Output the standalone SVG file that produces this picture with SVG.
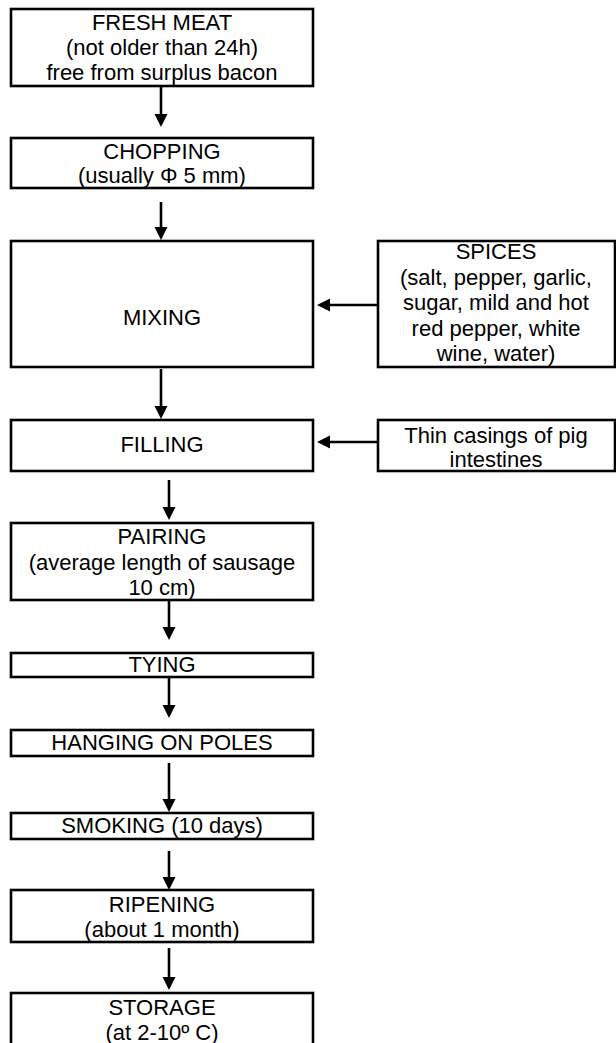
<svg xmlns="http://www.w3.org/2000/svg" width="616" height="1043" viewBox="0 0 616 1043">
<style>
.box{fill:#fff;stroke:#000;stroke-width:2.6}
.t{font-family:"Liberation Sans",Arial,sans-serif;font-size:22px;fill:#000;text-anchor:middle}
.c{stroke:#000;stroke-width:2.6;fill:none;marker-end:url(#ah)}
</style>
<defs>
<marker id="ah" markerUnits="userSpaceOnUse" markerWidth="14" markerHeight="14" refX="3" refY="6.5" orient="auto">
<path d="M0,0 L13,6.5 L0,13 z" fill="#000"/>
</marker>
</defs>
<rect width="616" height="1043" fill="#fff"/>
<g id="connectors">
<line class="c" x1="161" y1="87" x2="161" y2="117"/>
<line class="c" x1="161" y1="202" x2="161" y2="230"/>
<line class="c" x1="161" y1="369" x2="161" y2="409"/>
<line class="c" x1="169" y1="480" x2="169" y2="510"/>
<line class="c" x1="169" y1="601" x2="169" y2="630"/>
<line class="c" x1="169" y1="678" x2="169" y2="708"/>
<line class="c" x1="169" y1="763" x2="169" y2="802"/>
<line class="c" x1="169" y1="851" x2="169" y2="880"/>
<line class="c" x1="169" y1="948" x2="169" y2="980"/>
<line class="c" x1="378" y1="305" x2="327" y2="305"/>
<line class="c" x1="378" y1="442" x2="327" y2="442"/>
</g>
<g id="fresh-meat">
<rect class="box" x="11" y="9" width="302" height="77"/>
<text class="t" x="162" y="30">FRESH MEAT</text>
<text class="t" x="162" y="55">(not older than 24h)</text>
<text class="t" x="162" y="80">free from surplus bacon</text>
</g>
<g id="chopping">
<rect class="box" x="11" y="138" width="302" height="50"/>
<text class="t" x="162" y="159">CHOPPING</text>
<text class="t" x="162" y="183">(usually Φ 5 mm)</text>
</g>
<g id="mixing">
<rect class="box" x="11" y="241" width="302" height="126"/>
<text class="t" x="162" y="325">MIXING</text>
</g>
<g id="spices">
<rect class="box" x="378" y="241" width="237" height="126"/>
<text class="t" x="496" y="259">SPICES</text>
<text class="t" x="496" y="284.5">(salt, pepper, garlic,</text>
<text class="t" x="496" y="310">sugar, mild and hot</text>
<text class="t" x="496" y="335.5">red pepper, white</text>
<text class="t" x="496" y="361">wine, water)</text>
</g>
<g id="filling">
<rect class="box" x="11" y="420" width="302" height="51"/>
<text class="t" x="162" y="452">FILLING</text>
</g>
<g id="casings">
<rect class="box" x="378" y="420" width="237" height="51"/>
<text class="t" x="496" y="443">Thin casings of pig</text>
<text class="t" x="496" y="467">intestines</text>
</g>
<g id="pairing">
<rect class="box" x="11" y="523" width="302" height="77"/>
<text class="t" x="162" y="544">PAIRING</text>
<text class="t" x="162" y="569.5">(average length of sausage</text>
<text class="t" x="162" y="595">10 cm)</text>
</g>
<g id="tying">
<rect class="box" x="11" y="653" width="302" height="24"/>
<text class="t" x="162" y="672">TYING</text>
</g>
<g id="hanging">
<rect class="box" x="11" y="730" width="302" height="26"/>
<text class="t" x="162" y="750">HANGING ON POLES</text>
</g>
<g id="smoking">
<rect class="box" x="11" y="813" width="302" height="26"/>
<text class="t" x="162" y="833">SMOKING (10 days)</text>
</g>
<g id="ripening">
<rect class="box" x="11" y="890" width="302" height="52"/>
<text class="t" x="162" y="912">RIPENING</text>
<text class="t" x="162" y="937">(about 1 month)</text>
</g>
<g id="storage">
<rect class="box" x="11" y="993" width="302" height="70"/>
<text class="t" x="162" y="1015">STORAGE</text>
<text class="t" x="162" y="1040">(at 2-10º C)</text>
</g>
</svg>
